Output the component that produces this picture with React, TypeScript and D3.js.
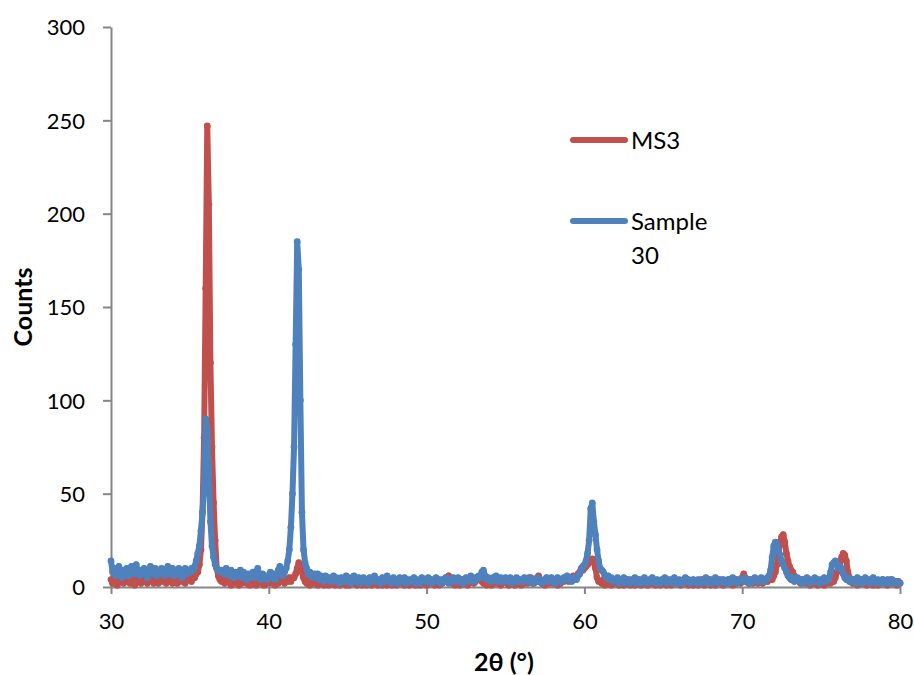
import React, { useEffect, useRef } from 'react';
import * as d3 from 'd3';

// 2θ grid, 0.1° step from 30 to 80
const twoTheta = d3.range(300, 801).map(i => i / 10);

const ms3 = [
  4,2,6,3,1,5,3,7,2,4,
  3,5,2,6,4,1,5,3,6,2,
  4,7,3,2,5,4,6,2,3,5,
  2,4,6,3,5,2,4,7,3,2,
  5,3,2,6,4,3,5,2,4,6,
  4,3,6,5,7,8,12,20,40,80,
  160,247,205,120,75,45,25,10,6,4,
  3,5,2,4,6,3,1,4,2,5,
  3,1,4,2,5,3,2,4,1,3,
  2,4,1,3,5,2,4,1,3,2,
  4,2,5,3,1,4,2,3,5,4,
  2,4,3,5,3,5,5,7,10,13,
  11,8,5,3,2,4,1,3,2,3,
  3,1,4,2,3,1,2,4,1,3,
  2,3,1,4,2,1,3,2,4,1,
  3,1,2,4,2,3,1,2,3,1,
  2,4,1,3,2,1,3,4,2,1,
  3,2,1,2,4,1,3,2,1,3,
  2,1,3,2,4,2,1,3,2,1,
  3,2,4,1,2,3,1,2,4,2,
  1,3,2,4,2,1,3,2,1,3,
  2,4,3,5,6,4,2,3,1,2,
  3,1,2,4,2,3,1,2,3,4,
  2,3,5,4,6,3,2,4,1,3,
  2,1,3,2,4,2,3,1,2,4,
  3,2,1,3,2,4,1,2,3,2,
  1,3,2,4,2,3,5,3,2,4,
  3,6,4,2,3,1,2,4,2,3,
  2,4,3,1,3,2,4,3,5,4,
  3,5,4,6,5,5,7,8,10,9,
  10,11,12,13,14,15,14,10,5,3,
  3,2,4,1,3,2,4,1,2,3,
  2,4,1,3,2,1,3,2,4,1,
  3,2,1,3,2,4,1,2,3,2,
  1,3,2,4,2,1,3,2,1,3,
  2,4,1,2,3,1,2,4,2,3,
  3,1,2,4,2,3,1,2,3,1,
  2,3,1,2,4,2,1,3,2,4,
  1,2,3,1,2,4,2,3,1,2,
  3,2,4,2,1,3,2,4,3,2,
  5,7,4,3,2,4,3,2,4,3,
  2,3,4,2,3,4,3,5,4,4,
  6,8,12,18,24,27,28,24,18,14,
  11,9,8,6,5,4,3,2,4,3,
  2,4,3,1,2,3,2,4,1,3,
  2,3,1,4,2,3,2,4,3,5,
  8,11,13,16,18,17,14,8,5,3,
  2,4,3,1,3,2,4,2,3,1,
  3,2,4,1,2,3,1,3,2,4,
  2,3,1,2,4,2,3,2,1,3,
  2
];

const sample30 = [
  14,8,10,6,9,11,7,5,9,8,
  10,6,8,11,7,9,12,8,6,9,
  7,10,8,5,9,11,7,8,10,6,
  9,7,10,8,6,9,11,7,8,10,
  6,9,7,10,8,5,8,10,7,9,
  8,10,9,11,14,18,22,30,40,55,
  90,85,60,35,22,16,12,10,9,8,
  9,8,7,10,8,6,9,7,5,8,
  7,6,9,5,8,6,4,7,5,6,
  8,5,7,10,6,4,7,5,6,4,
  6,8,5,7,4,6,9,11,8,6,
  8,10,14,20,32,50,75,130,185,170,
  100,40,20,13,10,7,8,6,5,7,
  5,7,4,6,5,3,6,4,5,3,
  4,6,3,5,4,2,5,3,4,6,
  3,5,2,4,6,3,4,5,2,4,
  5,3,4,2,5,4,3,6,4,3,
  4,2,5,3,4,6,3,4,2,5,
  3,4,2,5,3,4,5,2,4,3,
  4,3,5,2,4,3,2,5,3,4,
  3,5,4,2,3,4,5,3,4,2,
  4,3,5,4,2,4,3,5,4,3,
  5,3,4,2,4,5,3,4,6,4,
  3,5,4,6,5,8,9,6,4,5,
  4,3,5,4,6,3,4,5,3,4,
  5,4,3,5,2,4,3,5,4,3,
  4,3,5,4,3,5,4,2,4,3,
  5,3,4,2,3,4,5,3,4,5,
  3,4,2,5,3,4,3,5,4,6,
  4,5,3,4,5,4,6,7,9,11,
  12,14,18,25,42,45,35,28,20,14,
  10,9,8,6,5,6,4,5,3,4,
  3,5,2,4,3,5,2,4,3,2,
  4,3,5,2,4,3,2,4,5,3,
  2,4,3,5,3,2,4,3,2,4,
  3,5,2,4,3,4,2,5,3,2,
  4,3,2,4,5,3,4,2,3,4,
  3,2,4,3,2,4,3,5,2,3,
  4,2,3,5,3,2,4,3,4,2,
  3,4,2,3,5,3,4,2,3,4,
  4,3,5,3,4,2,4,3,5,3,
  4,3,5,4,3,4,5,6,9,16,
  22,24,23,20,17,14,12,10,8,6,
  5,4,5,3,4,5,3,4,2,4,
  3,5,4,2,4,3,5,3,4,2,
  4,3,5,3,4,4,8,12,13,14,
  12,10,11,10,7,5,4,5,3,4,
  3,4,2,5,3,4,2,3,5,3,
  4,2,3,5,3,2,4,3,2,4,
  3,2,4,3,2,4,3,2,3,2,
  2
];

const seriesNames = ['MS3', 'Sample 30'];
const seriesColors = ['#C0504D', '#4F81BD'];
const xTicks = [30, 40, 50, 60, 70, 80];
const yTicks = [0, 50, 100, 150, 200, 250, 300];

const W = 914, H = 675;
const FONT = 'Lato, "Open Sans", sans-serif';

export default function App() {
  const ref = useRef<SVGSVGElement>(null);

  useEffect(() => {
    const svg = d3.select(ref.current);
    svg.selectAll('*').remove();

    const x = d3.scaleLinear().domain([30, 80]).range([111, 900]);
    const y = d3.scaleLinear().domain([0, 300]).range([587, 27]);

    const yAxis = svg.append('g')
      .attr('transform', 'translate(111,0)')
      .call(d3.axisLeft(y).tickValues(yTicks).tickSize(8).tickSizeOuter(0).tickPadding(18));
    const xAxis = svg.append('g')
      .attr('transform', 'translate(0,587)')
      .call(d3.axisBottom(x).tickValues(xTicks).tickSize(7).tickSizeOuter(0).tickPadding(18));

    [yAxis, xAxis].forEach(g => {
      g.selectAll('path, line').attr('stroke', '#868686').attr('stroke-width', 2);
      g.selectAll('text')
        .attr('font-family', FONT)
        .attr('font-size', 22)
        .attr('fill', '#000');
    });
    yAxis.selectAll('text').attr('dy', '0.36em');
    xAxis.selectAll('text').attr('dy', '0.75em');

    const line = d3.line<number>()
      .x((_, i) => x(twoTheta[i]))
      .y(d => y(d));

    [ms3, sample30].forEach((vals, k) => {
      const g = svg.append('g');
      g.append('path')
        .datum(vals)
        .attr('d', line)
        .attr('fill', 'none')
        .attr('stroke', seriesColors[k])
        .attr('stroke-width', 6)
        .attr('stroke-linejoin', 'round');
      g.selectAll('circle')
        .data(vals)
        .join('circle')
        .attr('cx', (_, i) => x(twoTheta[i]))
        .attr('cy', d => y(d))
        .attr('r', 3.4)
        .attr('fill', seriesColors[k]);
    });

    // axis titles
    svg.append('text')
      .attr('transform', `translate(32,${(27 + 587) / 2}) rotate(-90)`)
      .attr('text-anchor', 'middle')
      .attr('font-family', FONT)
      .attr('font-weight', 'bold')
      .attr('font-size', 25)
      .text('Counts');
    svg.append('text')
      .attr('x', 504)
      .attr('y', 671)
      .attr('text-anchor', 'middle')
      .attr('font-family', FONT)
      .attr('font-weight', 'bold')
      .attr('font-size', 25)
      .text('2θ (°)');

    // legend
    const legendY = [140, 221];
    seriesNames.forEach((name, k) => {
      const g = svg.append('g').attr('transform', `translate(0,${legendY[k]})`);
      g.append('line')
        .attr('x1', 573).attr('x2', 625)
        .attr('stroke', seriesColors[k])
        .attr('stroke-width', 6)
        .attr('stroke-linecap', 'round');
      const words = name === 'Sample 30' ? ['Sample', '30'] : [name];
      words.forEach((w, j) => {
        g.append('text')
          .attr('x', 631)
          .attr('y', j * 34)
          .attr('dy', '0.36em')
          .attr('font-family', FONT)
          .attr('font-size', 24)
          .text(w);
      });
    });
  }, []);

  return (
    <svg ref={ref} width={W} height={H}
      style={{ position: 'absolute', left: 0, top: 0, background: '#fff' }} />
  );
}
